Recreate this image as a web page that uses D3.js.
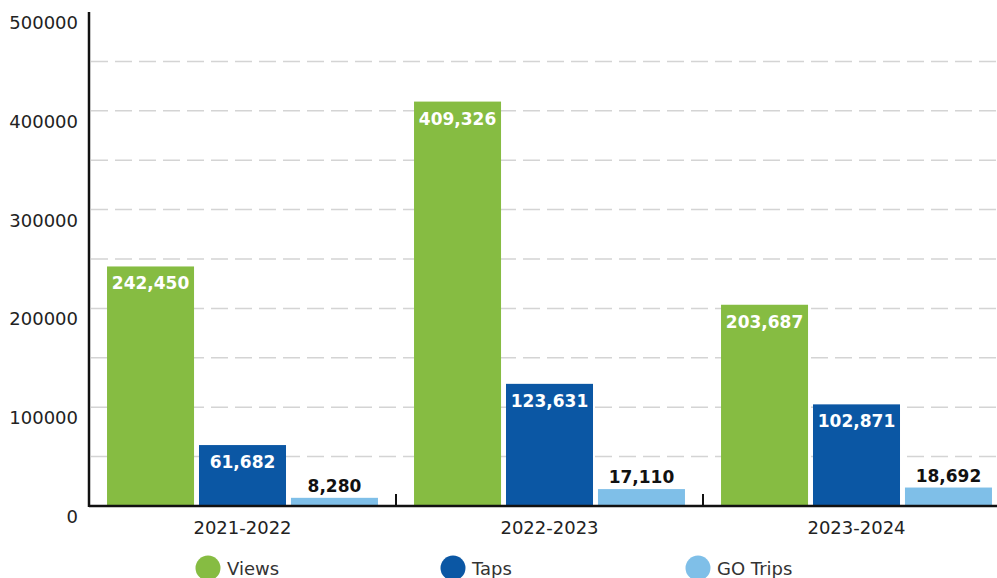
<!DOCTYPE html>
<html>
<head>
<meta charset="utf-8">
<script src="https://cdn.jsdelivr.net/npm/d3@7"></script>
<style>
  body { margin: 0; background: #fff; }
  text { font-family: "DejaVu Sans", sans-serif; }
</style>
</head>
<body>
<script>
(function() {

    const width = 997;
    const height = 578;

    // data
    const years = ["2021-2022", "2022-2023", "2023-2024"];
    const seriesNames = ["Views", "Taps", "GO Trips"];
    const views = [242450, 409326, 203687];
    const taps = [61682, 123631, 102871];
    const goTrips = [8280, 17110, 18692];
    const yTicks = [0, 100000, 200000, 300000, 400000, 500000];
    const gridValues = [50000, 100000, 150000, 200000, 250000, 300000, 350000, 400000, 450000];

    const colors = ["#86bc42", "#0b57a4", "#7fbfe8"];
    const seriesValues = [views, taps, goTrips];

    const rows = years.map((y, i) => ({
        year: y,
        values: seriesNames.map((s, j) => ({ series: s, idx: j, value: seriesValues[j][i] }))
    }));

    const left = 89, top = 12, bottom = 506;

    const x0 = d3.scaleBand()
        .domain(years)
        .range([left, left + 307 * 3])
        .padding(0);

    const x1 = d3.scaleBand()
        .domain(seriesNames)
        .range([0, x0.bandwidth()])
        .paddingInner(0.054)
        .paddingOuter(0.196);

    const y = d3.scaleLinear()
        .domain([0, 500000])
        .range([bottom, top]);

    const fmt = d3.format(",");

    const svg = d3.select("body").append("svg")
        .attr("width", width)
        .attr("height", height);

    // dashed gridlines
    svg.append("g")
        .selectAll("line")
        .data(gridValues)
        .enter()
        .append("line")
        .attr("x1", left + 2)
        .attr("x2", width)
        .attr("y1", d => y(d))
        .attr("y2", d => y(d))
        .style("stroke", "#d4d4d4")
        .style("stroke-width", 1.5)
        .style("stroke-dasharray", "17,7");

    // bars
    const groups = svg.append("g")
        .selectAll("g")
        .data(rows)
        .enter()
        .append("g")
        .attr("transform", d => "translate(" + x0(d.year) + ",0)");

    groups.selectAll("rect")
        .data(d => d.values)
        .enter()
        .append("rect")
        .attr("x", d => x1(d.series))
        .attr("y", d => y(d.value))
        .attr("width", x1.bandwidth())
        .attr("height", d => y(0) - y(d.value))
        .style("fill", d => colors[d.idx]);

    // value labels: inside the top for the tall bars, above for GO Trips
    groups.selectAll("text")
        .data(d => d.values)
        .enter()
        .append("text")
        .attr("x", d => x1(d.series) + x1.bandwidth() / 2)
        .attr("y", d => d.idx < 2 ? y(d.value) + 23 : y(d.value) - 6)
        .attr("text-anchor", "middle")
        .style("font-size", "17px")
        .style("font-weight", "bold")
        .style("fill", d => d.idx < 2 ? "#fff" : "#111")
        .text(d => fmt(d.value));

    // y axis
    svg.append("line")
        .attr("x1", left).attr("x2", left)
        .attr("y1", top).attr("y2", bottom + 1)
        .style("stroke", "#111")
        .style("stroke-width", 2.5);

    svg.append("g")
        .selectAll("text")
        .data(yTicks)
        .enter()
        .append("text")
        .attr("x", 78)
        .attr("y", d => y(d) + 17)
        .attr("text-anchor", "end")
        .style("font-size", "18px")
        .style("fill", "#222")
        .text(d => d);

    // x axis
    svg.append("line")
        .attr("x1", left).attr("x2", width)
        .attr("y1", bottom).attr("y2", bottom)
        .style("stroke", "#111")
        .style("stroke-width", 2.5);

    svg.append("g")
        .selectAll("line")
        .data(years.slice(1))
        .enter()
        .append("line")
        .attr("x1", d => x0(d)).attr("x2", d => x0(d))
        .attr("y1", bottom - 12).attr("y2", bottom)
        .style("stroke", "#111")
        .style("stroke-width", 2);

    svg.append("g")
        .selectAll("text")
        .data(years)
        .enter()
        .append("text")
        .attr("x", d => x0(d) + x0.bandwidth() / 2)
        .attr("y", 534)
        .attr("text-anchor", "middle")
        .style("font-size", "18px")
        .style("fill", "#222")
        .text(d => d);

    // legend
    const legend = svg.append("g")
        .selectAll("g")
        .data(seriesNames)
        .enter()
        .append("g")
        .attr("transform", (d, i) => "translate(" + (208 + i * 245) + ",568)");

    legend.append("circle")
        .attr("r", 12.5)
        .style("fill", (d, i) => colors[i]);

    legend.append("text")
        .attr("x", 19)
        .attr("y", 7)
        .style("font-size", "18px")
        .style("fill", "#333")
        .text(d => d);
})();
</script>
</body>
</html>
